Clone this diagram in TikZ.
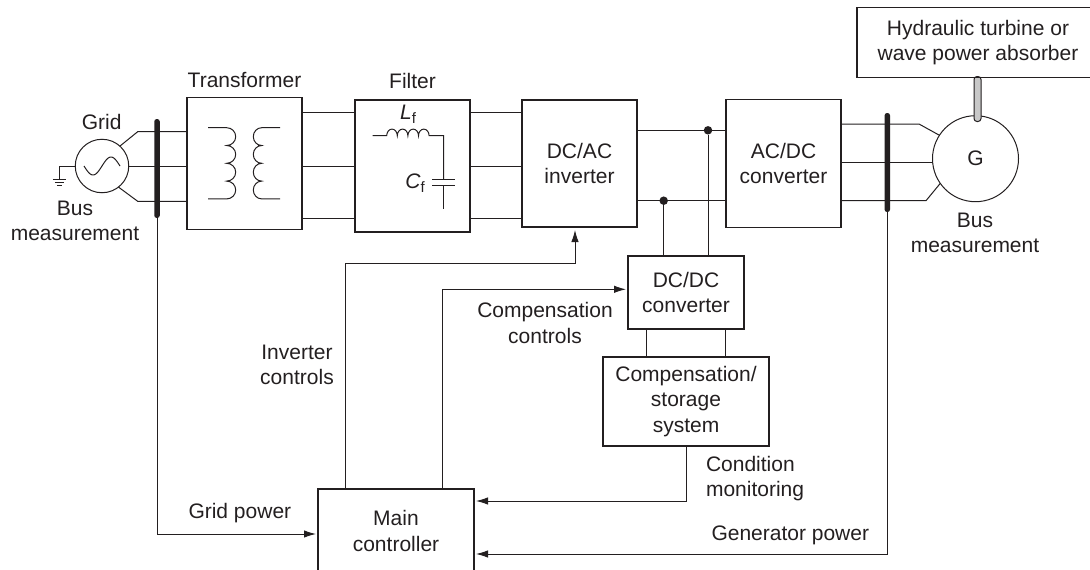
\documentclass[tikz,border=0pt]{standalone}
\usepackage{fontspec}
\setmainfont{Liberation Sans}
\usetikzlibrary{arrows.meta,positioning}
\definecolor{ink}{HTML}{231F20}
\definecolor{shaftgray}{HTML}{C8C8C8}
\newcommand{\subf}{\raisebox{-4pt}{\fontsize{15}{15}\selectfont f}}

\begin{document}
\begin{tikzpicture}[
  x=1pt,y=-1pt,font=\fontsize{21}{25.5}\selectfont,>={Latex[length=12pt,width=7.5pt]},
  color=ink,line width=1pt,
  every node/.append style={text=ink},
  block/.style={draw=ink, line width=1.1pt, align=center, outer sep=0pt, inner sep=0pt},
  lbl/.style={align=center, inner sep=0pt},
  lblleft/.style={align=left, inner sep=0pt},
  busbar/.style={fill=ink, draw=none, rounded corners=2.5pt, minimum width=5.5pt, inner sep=0pt, outer sep=0pt},
  dot/.style={circle, fill=ink, draw=none, minimum size=8.5pt, inner sep=0pt},
  machine/.style={circle, draw=ink, line width=1pt, inner sep=0pt, outer sep=0pt},
]
\useasboundingbox (0,0) rectangle (1090,570);
\clip (0,0) rectangle (1090,570);
% power stage, left to right
\node[block, minimum width=115pt, minimum height=132pt] (xfmr) at (244.5,163.5) {};
\node[block, minimum width=115pt, minimum height=132pt, right=53pt of xfmr, yshift=-2.5pt] (filter) {};
\node[block, minimum width=115pt, minimum height=127pt, right=52pt of filter, yshift=2.5pt] (inverter) {DC/AC\\inverter};
\node[block, minimum width=115pt, minimum height=128pt, right=89pt of inverter] (rectifier) {AC/DC\\converter};
% storage branch
\node[block, minimum width=116pt, minimum height=73pt] (dcdc) at (686,292.5) {DC/DC\\converter};
\node[block, minimum width=166pt, minimum height=89pt, below=28pt of dcdc] (storage) {Compensation/\\storage\\system};
% controller runs off the bottom edge
\node[block, minimum width=156pt, minimum height=84pt] (ctrl) at (396,531) {Main\\controller};
% machines
\node[machine, minimum size=53.5pt] (grid) at (102,166) {};
\node[machine, minimum size=86pt] (gen) at (975.5,158.7) {G};
\node[draw=ink, fill=shaftgray, rounded corners=3pt, minimum width=7pt, minimum height=45pt, inner sep=0pt, outer sep=0pt] (shaft) at (977.5,99) {};
% turbine box runs off the right edge
\node[block, minimum width=242pt, minimum height=70.5pt] (turbine) at (978,42.5) {Hydraulic turbine or\\wave power absorber};
% bus bars
\node[busbar, minimum height=99pt] (busL) at (157,168.5) {};
\node[busbar, minimum height=99pt] (busR) at (887.3,162.5) {};
% grid side phases
\foreach \i/\y in {1/131.7,2/166,3/201.3} \coordinate (gph\i) at (0,\y);
\coordinate (bendA) at (137.7,131.7);
\coordinate (bendB) at (137.7,201.3);
\draw (grid.48) -- (bendA) -- (xfmr.west |- gph1);
\draw (grid.east) -- (xfmr.west |- gph2);
\draw (grid.-52) -- (bendB) -- (xfmr.west |- gph3);
% ground
\coordinate (gnd) at (59.3,179.5);
\draw (grid.west) -| (gnd);
\draw ([xshift=-6.5pt]gnd) -- ([xshift=6.5pt]gnd);
\draw ([xshift=-4.5pt,yshift=-3pt]gnd) -- ([xshift=4.5pt,yshift=-3pt]gnd);
\draw ([xshift=-2.5pt,yshift=-6pt]gnd) -- ([xshift=2.5pt,yshift=-6pt]gnd);
% source sine
\draw plot[domain=0:360,samples=40,smooth] ({84+\x/10},{166+9*sin(\x)});
% three phase links
\foreach \i/\y in {1/112.7,2/166,3/218.3} {
  \coordinate (mph\i) at (0,\y);
  \draw (xfmr.east |- mph\i) -- (filter.west |- mph\i);
  \draw (filter.east |- mph\i) -- (inverter.west |- mph\i);
}
% transformer windings
\coordinate (coilL) at (208,127.7);
\coordinate (coilR) at (280,127.7);
\draw (coilL) -- ++(18.7,0)
  \foreach \n in {1,...,4} {arc[start angle=-90,end angle=90,x radius=9,y radius=8.9]} -- ++(-18.7,0);
\draw (coilR) -- ++(-18.3,0)
  \foreach \n in {1,...,4} {arc[start angle=270,end angle=90,x radius=8.4,y radius=8.9]} -- ++(18.3,0);
% filter
\coordinate (lfin) at (372.7,135.7);
\coordinate (cfpos) at (443.7,179.3);
\coordinate (cfneg) at (443.7,185);
\coordinate (cfend) at (443.7,209.3);
\draw (lfin) -- ++(14,0)
  \foreach \n in {1,...,4} {arc[start angle=180,end angle=360,x radius=5.3,y radius=6.6]} -| (cfpos);
\draw ([xshift=-11.5pt]cfpos) -- ([xshift=11.5pt]cfpos);
\draw ([xshift=-11.5pt]cfneg) -- ([xshift=11.5pt]cfneg);
\draw (cfneg) -- (cfend);
% dc link
\coordinate (dcA) at (0,130.3);
\coordinate (dcB) at (0,200.7);
\draw (inverter.east |- dcA) -- (rectifier.west |- dcA);
\draw (inverter.east |- dcB) -- (rectifier.west |- dcB);
\node[dot] (tapA) at (708,130.3) {};
\node[dot] (tapB) at (663.7,200.7) {};
\draw (tapA) -- (tapA |- dcdc.north);
\draw (tapB) -- (tapB |- dcdc.north);
\coordinate (tieA) at (646,0);
\coordinate (tieB) at (725.7,0);
\draw (tieA |- dcdc.south) -- (tieA |- storage.north);
\draw (tieB |- dcdc.south) -- (tieB |- storage.north);
% generator side phases
\foreach \i/\y in {1/124,2/162.7,3/200.7} \coordinate (rph\i) at (0,\y);
\coordinate (bendC) at (919,124);
\coordinate (bendD) at (926,200.7);
\draw (rectifier.east |- rph1) -- (bendC) -- (gen.147);
\draw (rectifier.east |- rph2) -- (gen.west |- rph2);
\draw (rectifier.east |- rph3) -- (bendD) -- (gen.-145);
% control and measurement signals
\coordinate (invbend) at (345,263);
\coordinate (invin) at (575,227);
\coordinate (compup) at (442.7,289.3);
\coordinate (condout) at (686,501);
\coordinate (gridin) at (157,534);
\coordinate (genin) at (887.3,554);
\draw[->, shorten >=3pt] (ctrl.north -| invbend) -- (invbend) -| (invin);
\draw[->, shorten >=2pt] (ctrl.north -| compup) |- (dcdc.west |- compup);
\draw[->, shorten >=2pt] (storage.south -| condout) |- (ctrl.east |- condout);
\draw[->, shorten >=2pt] (busL.south) |- (ctrl.west |- gridin);
\draw[->, shorten >=2pt] (busR.south) |- (ctrl.east |- genin);
% labels
\node[lbl] (gridlab) at (101.7,122) {Grid};
\node[lbl] (buslabL) at (75,221) {Bus\\measurement};
\node[lbl] (buslabR) at (975,233) {Bus\\measurement};
\node[lbl, above=9pt of xfmr] (xfmrlab) {Transformer};
\node[lbl, above=11pt of filter] (filterlab) {Filter};
\node[lbl] (lflab) at (408,114) {\textit{L}\subf};
\node[lbl] (cflab) at (415,183) {\textit{C}\subf};
\node[lbl] (invlab) at (297,365) {Inverter\\controls};
\node[lbl] (complab) at (545,323) {Compensation\\controls};
\node[lblleft, anchor=west] (condlab) at (705.5,478.5) {Condition\\monitoring};
\node[lblleft, anchor=west] (gridpow) at (188,513) {Grid power};
\node[lblleft, anchor=west] (genpow) at (711,535.5) {Generator power};
\end{tikzpicture}
\end{document}
